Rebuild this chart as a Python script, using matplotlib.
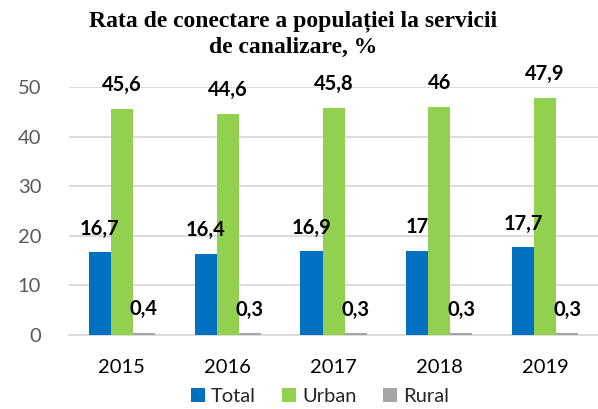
import numpy as np
import matplotlib
matplotlib.use("Agg")
import matplotlib.pyplot as plt

years = ["2015", "2016", "2017", "2018", "2019"]
total = [16.7, 16.4, 16.9, 17.0, 17.7]
urban = [45.6, 44.6, 45.8, 46.0, 47.9]
rural = [0.4, 0.3, 0.3, 0.3, 0.3]
series_names = ["Total", "Urban", "Rural"]
colors = ["#0070C0", "#92D050", "#A5A5A5"]

plt.rcParams["font.family"] = ["Lato", "DejaVu Sans"]

fig = plt.figure(figsize=(5.98, 4.09), dpi=100)
ax = fig.add_axes([0.1154, 0.181, 0.8846, 0.606])

x = np.arange(len(years))
width = 0.208
offsets = [-width, 0, width]

for vals, name, col, off in zip([total, urban, rural], series_names, colors, offsets):
    bars = ax.bar(x + off, vals, width, color=col, label=name, zorder=3)
    for b, v in zip(bars, vals):
        txt = f"{v:g}".replace(".", ",")
        ax.annotate(txt, (b.get_x() + b.get_width() / 2, v),
                    xytext=(0, 17), textcoords="offset points",
                    ha="center", va="center", fontsize=14.5, fontweight="bold",
                    color="black", annotation_clip=False, zorder=10)

ax.set_xlim(-0.5, len(years) - 0.5)
ax.set_ylim(0, 50)
ax.set_yticks(range(0, 51, 10))
ax.set_xticks(x)
ax.set_xticklabels(years)
ax.grid(True, axis="y", color="#D9D9D9", linewidth=1.3, zorder=0)
for s in ["top", "right", "left"]:
    ax.spines[s].set_visible(False)
ax.spines["bottom"].set_color("#D9D9D9")
ax.spines["bottom"].set_linewidth(1.3)
ax.tick_params(axis="both", length=0)
ax.tick_params(axis="y", labelsize=14.5, labelcolor="#595959", pad=20)
ax.tick_params(axis="x", labelsize=14.5, labelcolor="black", pad=17)

fig.text(0.49, 0.975, "Rata de conectare a populației la servicii\nde canalizare, %",
         ha="center", va="top", fontsize=17, fontweight="bold",
         family="Liberation Serif", linespacing=1.35)

fig.legend(loc="lower center", bbox_to_anchor=(0.535, -0.035), ncol=3, frameon=False,
           fontsize=14.5, handlelength=0.7, handleheight=0.7, handletextpad=0.3,
           columnspacing=1.3, labelcolor="#262626")

fig.savefig("out.png", dpi=100)
